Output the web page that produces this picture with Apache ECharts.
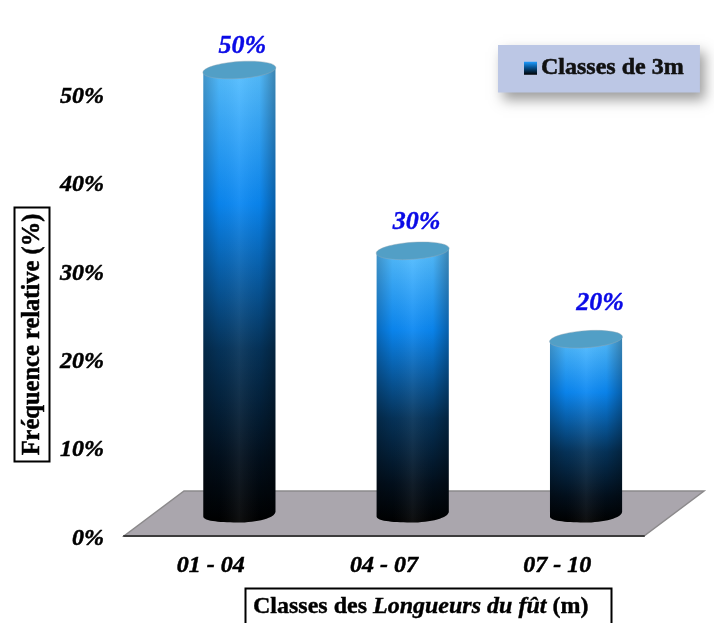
<!DOCTYPE html>
<html><head><meta charset="utf-8">
<style>html,body{margin:0;padding:0;background:#fff}#c{width:714px;height:623px}</style>
<script src="https://cdn.jsdelivr.net/npm/echarts@6/dist/echarts.min.js"></script>
</head><body><div id="c"></div>
<script>
const categories = ['01 - 04', '04 - 07', '07 - 10'];
const frequencies = [50, 30, 20];
const yTicks = [0, 10, 20, 30, 40, 50];
const seriesName = 'Classes de 3m';
const SERIF = '"Liberation Serif","Times New Roman",serif';

const labelNudge = [[3, 2], [4, -3], [14, -10]];
const bodyFill = () => new echarts.graphic.LinearGradient(0, 0, 0, 1, [
  { offset: 0, color: '#58c0ff' }, { offset: 0.3, color: '#0a87f2' },
  { offset: 0.62, color: '#05335a' }, { offset: 0.86, color: '#020f1c' }, { offset: 1, color: '#000000' }]);
const edgeShade = () => new echarts.graphic.LinearGradient(0, 0, 1, 0, [
  { offset: 0, color: 'rgba(0,0,0,0.22)' }, { offset: 0.22, color: 'rgba(0,0,0,0.03)' },
  { offset: 0.5, color: 'rgba(255,255,255,0.06)' }, { offset: 0.78, color: 'rgba(0,0,0,0.04)' },
  { offset: 1, color: 'rgba(0,0,0,0.3)' }]);

function renderCylinder(params, api) {
  const i = api.value(0), v = api.value(1);
  const t = api.coord([i, v]), b = api.coord([i, 0]);
  const rx = api.size([1, 0])[0] * 0.208;
  const cx = t[0] + 28.7, ty = t[1] - 22 + (v === 50 ? -2 : 2), by = b[1] - 22;
  const tilt = 2.6, ry = 8.5;
  const bx = cx - 2, byy = by + ry;
  const body = `M${cx - rx} ${ty + tilt} L${cx - rx} ${by + tilt} ` +
    `C${cx - rx} ${by + tilt + ry * 0.5} ${bx - rx * 0.55} ${byy} ${bx} ${byy} ` +
    `C${bx + rx * 0.55} ${byy} ${cx + rx} ${by - tilt + ry * 0.75} ${cx + rx} ${by - tilt} ` +
    `L${cx + rx} ${ty - tilt} Z`;
  const n = labelNudge[params.dataIndex];
  return {
    type: 'group',
    children: [
      { type: 'path', shape: { pathData: body }, style: { fill: bodyFill() } },
      { type: 'path', shape: { pathData: body }, style: { fill: edgeShade() } },
      { type: 'ellipse', x: cx, y: ty, rotation: 0.07,
        shape: { cx: 0, cy: 0, rx: rx + 0.5, ry: ry },
        style: { fill: '#529fc6', stroke: 'rgba(150,170,180,0.7)', lineWidth: 0.6 } },
      { type: 'text', x: cx + n[0], y: ty - 26 + n[1],
        style: { text: v + '%', fill: '#0a0ae6', align: 'center', verticalAlign: 'middle',
          stroke: '#0a0ae6', lineWidth: 0.4,
          font: `italic bold 26px ${SERIF}` } }
    ]
  };
}

const heavy = { textBorderColor: '#000', textBorderWidth: 0.5 };
const chart = echarts.init(document.getElementById('c'), null, { renderer: 'canvas' });
chart.setOption({
  animation: false,
  backgroundColor: '#ffffff',
  grid: { left: 124, right: 70, top: 94, bottom: 87 },
  legend: {
    left: 498, top: 45, padding: [11, 16, 12, 26], itemWidth: 13, itemHeight: 13, itemGap: 0,
    backgroundColor: '#bcc7e5', shadowColor: 'rgba(0,0,0,0.38)', shadowBlur: 12,
    shadowOffsetX: 5, shadowOffsetY: 7,
    textStyle: { fontFamily: SERIF, fontWeight: 'bold', fontSize: 24, color: '#111', padding: [4, 0, 0, -1], ...heavy },
    data: [{ name: seriesName, icon: 'rect',
      itemStyle: { color: new echarts.graphic.LinearGradient(0, 0, 0, 1, [
        { offset: 0, color: '#1e9cff' }, { offset: 0.45, color: '#07518f' }, { offset: 1, color: '#000' }]) } }]
  },
  xAxis: {
    type: 'category', data: categories,
    axisTick: { show: false },
    axisLine: { lineStyle: { color: '#3c3c3c', width: 2 } },
    axisLabel: { margin: 18, fontFamily: SERIF, fontStyle: 'italic', fontWeight: 'bold', fontSize: 24, color: '#000', ...heavy }
  },
  yAxis: {
    type: 'value', min: 0, max: 50, interval: 10,
    axisLine: { show: false }, axisTick: { show: false }, splitLine: { show: false },
    axisLabel: { margin: 20, formatter: '{v|{value}%}', color: '#000',
      rich: { v: { padding: [5, 0, 0, 0], fontFamily: SERIF, fontStyle: 'italic', fontWeight: 'bold', fontSize: 24, color: '#000', ...heavy } } }
  },
  graphic: [
    { type: 'polygon', z: -10, silent: true,
      shape: { points: [[124, 536], [644, 536], [704, 491], [184, 491]] },
      style: { fill: '#aaa6ad', stroke: '#8c8a8c', lineWidth: 1.5 } },
    { type: 'rect', silent: true, shape: { x: 14.5, y: 207.5, width: 35, height: 254 },
      style: { fill: '#fff', stroke: '#000', lineWidth: 2 } },
    { type: 'text', silent: true, x: 33, y: 334.5, rotation: Math.PI / 2,
      style: { text: 'Fréquence relative (%)', align: 'center', verticalAlign: 'middle', fill: '#000',
        stroke: '#000', lineWidth: 0.5, font: `bold 24.5px ${SERIF}` } },
    { type: 'rect', silent: true, shape: { x: 245.5, y: 588.5, width: 366, height: 50 },
      style: { fill: '#fff', stroke: '#000', lineWidth: 2 } },
    { type: 'text', silent: true, x: 253, y: 607,
      style: { text: '{a|Classes des }{b|Longueurs du fût}{a| (m)}', verticalAlign: 'middle', align: 'left',
        rich: {
          a: { fill: '#000', fontFamily: SERIF, fontWeight: 'bold', fontSize: 24, stroke: '#000', lineWidth: 0.4 },
          b: { fill: '#000', fontFamily: SERIF, fontWeight: 'bold', fontStyle: 'italic', fontSize: 24, stroke: '#000', lineWidth: 0.4 }
        } } }
  ],
  series: [{
    name: seriesName, type: 'custom', coordinateSystem: 'cartesian2d', clip: false,
    renderItem: renderCylinder,
    encode: { x: 0, y: 1 },
    data: frequencies.map((v, i) => [i, v])
  }]
});
</script></body></html>
